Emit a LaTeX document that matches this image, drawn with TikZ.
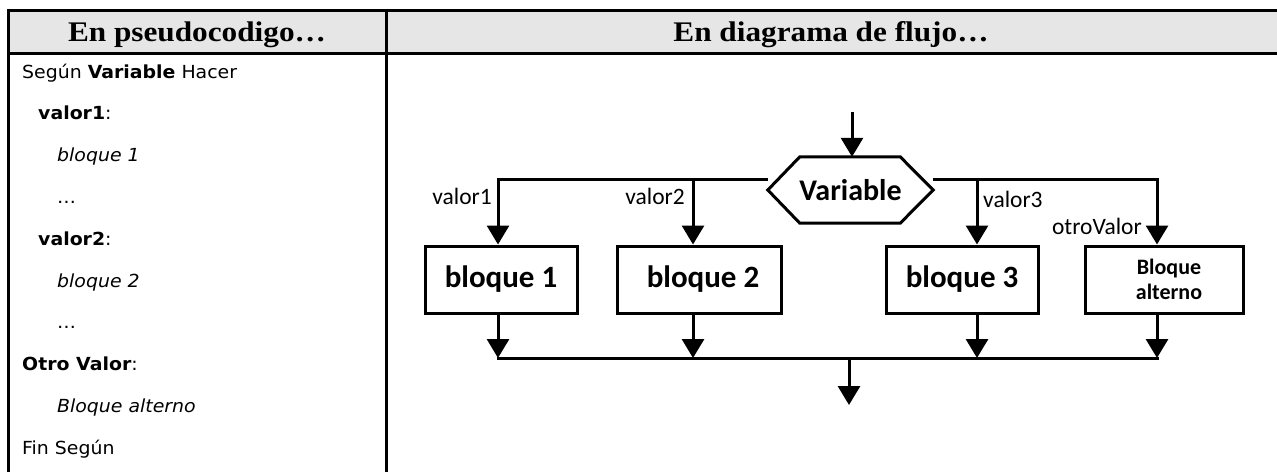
\documentclass[tikz,border=0pt]{standalone}
\usepackage{fontspec}
\usetikzlibrary{positioning,arrows.meta}
\newfontfamily\headfont[FakeStretch=1.1]{Liberation Serif}
\newfontfamily\codefont[FakeStretch=1.05]{DejaVu Sans}
\newfontfamily\flowfont{Carlito}
\definecolor{headgray}{RGB}{230,230,230}
\tikzset {
    style head/.style={
        font=\headfont\bfseries\fontsize{28.4pt}{32pt}\selectfont,
        inner sep=0pt,
        anchor=base,
    },
    style code/.style={
        font=\codefont\fontsize{18pt}{21pt}\selectfont,
        inner sep=0pt,
        anchor=base west,
    },
    style box/.style={
        draw=black,
        line width=3pt,
        rectangle, % Set the shape as a rectangle
        minimum height=67pt,
        inner sep=0pt,
        align=center,
        font=\flowfont\bfseries\fontsize{31pt}{36pt}\selectfont,
    },
    style hex/.style={
        rectangle, % drawn as a hexagon below
        minimum width=165pt,
        minimum height=66pt,
        inner sep=0pt,
        font=\flowfont\bfseries\fontsize{30pt}{34pt}\selectfont,
    },
    style lbl/.style={
        font=\flowfont\fontsize{23.5pt}{28pt}\selectfont,
        inner sep=0pt,
    },
    flow/.style={
        draw=black,
        line width=3pt,
        -{Triangle[length=19pt,width=22pt]},
    },
    line/.style={
        draw=black,
        line width=3pt,
    },
}

\begin{document}
\begin{tikzpicture}[x=1pt, y=-1pt]
        \useasboundingbox (0,0) rectangle (1277,472);

        % table
        \fill[headgray] (8,10) rectangle (1277,53);
        \draw[line] (8,10) -- (1277,10);
        \draw[line] (8,53) -- (1277,53);
        \draw[line] (8,8.5) -- (8,472);
        \draw[line] (386,8.5) -- (386,472);

        \node[style head] (hcode) at (197,41) {En pseudocodigo…};
        \node[style head] (hflow) at (831,41) {En diagrama de flujo…};

        % pseudocodigo
        \node[style code] (c1) at (22,78) {Según \textbf{Variable} Hacer};
        \node[style code] (c2) at (38,119.8) {\textbf{valor1}:};
        \node[style code] (c3) at (57,161.6) {\itshape bloque 1};
        \node[style code] (c4) at (57,203.4) {…};
        \node[style code] (c5) at (38,245.2) {\textbf{valor2}:};
        \node[style code] (c6) at (57,287) {\itshape bloque 2};
        \node[style code] (c7) at (57,328.8) {…};
        \node[style code] (c8) at (22,370.6) {\textbf{Otro Valor}:};
        \node[style code] (c9) at (57,412.4) {\itshape Bloque alterno};
        \node[style code] (c10) at (22,454.2) {Fin Según};

        % diagrama de flujo
        \node[style hex] (var) at (850.5,190) {Variable};
        \draw[line] (var.west) -- ([xshift=32pt]var.north west) -- ([xshift=-33pt]var.north east)
            -- (var.east) -- ([xshift=-33pt]var.south east) -- ([xshift=32pt]var.south west) -- cycle;

        \node[style box, minimum width=152pt] (b1) at (501,279.5) {bloque 1};
        \node[style box, minimum width=164pt] (b2) at (699,279.5) {\hspace*{8pt}bloque 2};
        \node[style box, minimum width=152pt] (b3) at (962,279.5) {bloque 3};
        \node[style box, minimum width=158pt, font=\flowfont\bfseries\fontsize{22pt}{25pt}\selectfont] (b4) at (1164,279.5) {\hspace*{10pt}Bloque\\\hspace*{10pt}alterno};

        \coordinate (entry) at (852,112);
        \coordinate (busL) at ([yshift=11pt]var.west);
        \coordinate (busR) at ([yshift=11pt]var.east);
        \coordinate (merge) at (849,358);
        \coordinate (exit) at (849,405);

        \draw[flow] (entry) -- (entry |- var.north);
        \draw[flow] (busL) -| ([xshift=-3pt]b1.north);
        \draw[flow] ([xshift=-6pt]b2.north |- busL) -- ([xshift=-6pt]b2.north);
        \draw[flow] (busR) -| ([xshift=-7pt]b4.north);
        \draw[flow] ([xshift=15pt]b3.north |- busR) -- ([xshift=15pt]b3.north);

        \node[style lbl, anchor=base east] (l1) at (492,204) {valor1};
        \node[style lbl, anchor=base east] (l2) at (685,204) {valor2};
        \node[style lbl, anchor=base west] (l3) at (983,207) {valor3};
        \node[style lbl, anchor=base east] (l4) at (1142,234) {otroValor};

        \draw[flow] ([xshift=-3pt]b1.south) -- ([xshift=-3pt]b1.south |- merge);
        \draw[flow] ([xshift=-6pt]b2.south) -- ([xshift=-6pt]b2.south |- merge);
        \draw[flow] ([xshift=15pt]b3.south) -- ([xshift=15pt]b3.south |- merge);
        \draw[flow] ([xshift=-7pt]b4.south) -- ([xshift=-7pt]b4.south |- merge);
        \draw[line] ([xshift=-4.5pt]b1.south |- merge) -- ([xshift=-5.5pt]b4.south |- merge);
        \draw[flow] (merge) -- (exit);

    \end{tikzpicture}
\end{document}
